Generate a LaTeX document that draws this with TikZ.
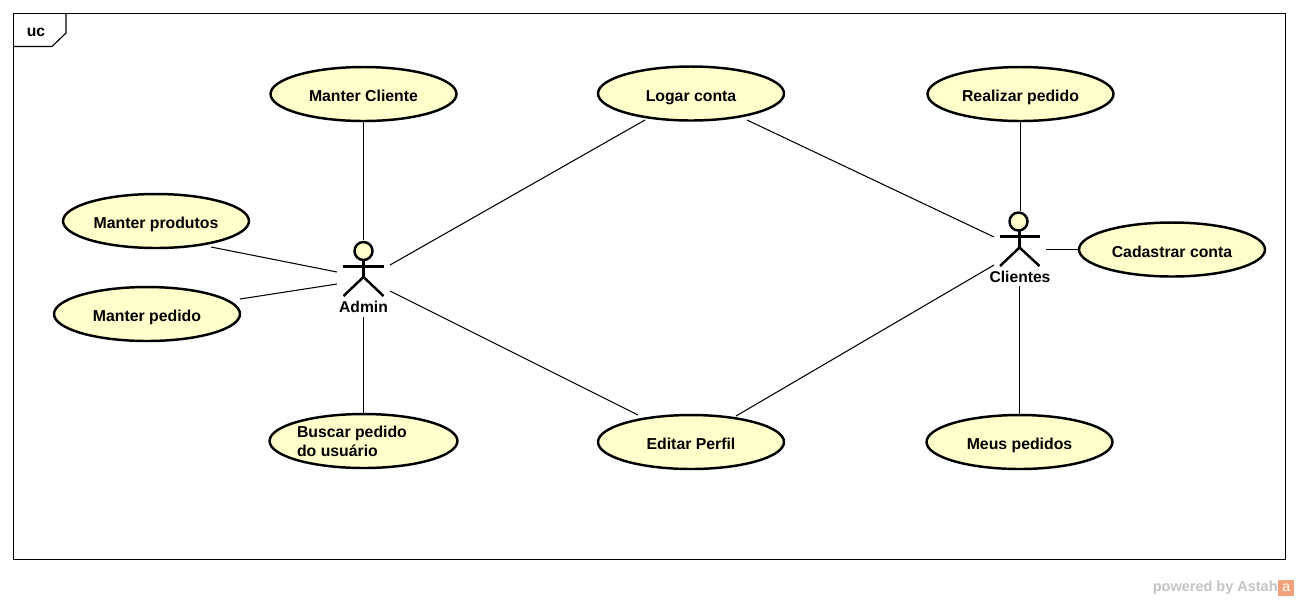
\documentclass[tikz,border=0pt]{standalone}
\usepackage{fontspec}
\setmainfont{Liberation Sans}
\usetikzlibrary{shapes.geometric}
\definecolor{ucfill}{HTML}{FFFFCC}
\definecolor{astahgray}{HTML}{C4C4C4}
\definecolor{astahorange}{HTML}{F4A27C}
\tikzset{
	usecase/.style={ellipse, draw, line width=1.4pt, fill=ucfill, minimum width=3.72cm, minimum height=1.08cm, inner sep=0pt, text height=8.6pt, text depth=0pt, font=\fontsize{9pt}{11pt}\selectfont\bfseries},
	actorbox/.style={inner sep=0pt, outer sep=0pt},
	actorlabel/.style={inner sep=0pt, font=\fontsize{8.9pt}{11pt}\selectfont\bfseries},
	actorline/.style={line width=1.4pt},
	assoc/.style={line width=0.6pt},
	frameline/.style={line width=0.65pt}
}
\begin{document}
\begin{tikzpicture}[x=0.02cm, y=-0.02cm]
	\useasboundingbox (0,0) rectangle (1298,600);

	% Frame
	\node[draw, frameline, minimum width=25.44cm, minimum height=10.92cm, inner sep=0pt, outer sep=0pt] (frame) at (649.5,286.5) {};
	\coordinate (tabtop) at (66,13.5);
	\coordinate (tableft) at (13.5,46.5);
	\draw[frameline] (tabtop) -- (66,33) -- (52,46.5) -- (tableft);
	\node[actorlabel] (uc) at (36,32) {uc};

	% Use cases
	\node[usecase] (mcliente) at (363.5,94) {Manter Cliente};
	\node[usecase] (logar) at (691,93.5) {Logar conta};
	\node[usecase] (realizar) at (1020.5,94) {Realizar pedido};
	\node[usecase] (produtos) at (156,221) {Manter produtos};
	\node[usecase] (mpedido) at (147,314) {Manter pedido};
	\node[usecase] (cadastrar) at (1172,249.5) {Cadastrar conta};
	\node[usecase, align=left, text height=, text depth=] (buscar) at (363.5,441) {Buscar pedido\hspace*{13.1pt}\\do usuário};
	\node[usecase] (editar) at (691,442) {Editar Perfil};
	\node[usecase] (meus) at (1019.5,442) {Meus pedidos};

	% Admin
	\node[actorbox, minimum width=1.06cm, minimum height=1.54cm] (admin) at (363.5,278.5) {};
	\draw[actorline, fill=ucfill] (363.5,251) circle (9);
	\draw[actorline] (343,266.5) -- (384,266.5);
	\draw[actorline] (343.5,296) -- (363.5,277) -- (383.5,296);
	\draw[actorline] (363.5,260) -- (363.5,277);
	\node[actorlabel] (adminlabel) at (363.5,307) {Admin};

	% Clientes
	\node[actorbox, minimum width=1.04cm, minimum height=1.5cm] (clientes) at (1020,248.5) {};
	\draw[actorline, fill=ucfill] (1018.5,221.5) circle (9);
	\draw[actorline] (1000,236.5) -- (1040,236.5);
	\draw[actorline] (1000,266) -- (1019.5,247.5) -- (1039.5,266);
	\draw[actorline] (1019.5,231) -- (1019.5,247.5);
	\node[actorlabel] (clienteslabel) at (1020,277) {Clientes};

	% Associations
	\draw[assoc] (mcliente.south) -- (mcliente.south |- admin.north);
	\draw[assoc] (buscar.north) -- (buscar.north |- admin.south);
	\draw[assoc] ([shift={(55,26)}]produtos.center) -- ([shift={(0,-6.5)}]admin.west);
	\draw[assoc] ([shift={(93,-15)}]mpedido.center) -- ([shift={(0,5.5)}]admin.west);
	\draw[assoc] ([shift={(-46,26.5)}]logar.center) -- ([shift={(0,-13.5)}]admin.east);
	\draw[assoc] ([shift={(-53,-27)}]editar.center) -- ([shift={(0,12.5)}]admin.east);
	\draw[assoc] ([shift={(56,26.5)}]logar.center) -- ([shift={(0,-11.5)}]clientes.west);
	\draw[assoc] ([shift={(45,-26)}]editar.center) -- ([shift={(0,16.5)}]clientes.west);
	\draw[assoc] (realizar.south) -- (realizar.south |- clientes.north);
	\draw[assoc] (cadastrar.west) -- (cadastrar.west -| clientes.east);
	\draw[assoc] (meus.north) -- (meus.north |- clientes.south);

	% Watermark
	\node[anchor=east, inner sep=0pt, text=astahgray, font=\fontsize{8.25pt}{10pt}\selectfont\bfseries] (powered) at (1278,588) {powered by Astah};
	\node[anchor=west, fill=astahorange, text=white, minimum size=0.32cm, inner sep=0pt, font=\fontsize{8pt}{8pt}\selectfont] (astahlogo) at (1278,587.5) {a};
\end{tikzpicture}
\end{document}
